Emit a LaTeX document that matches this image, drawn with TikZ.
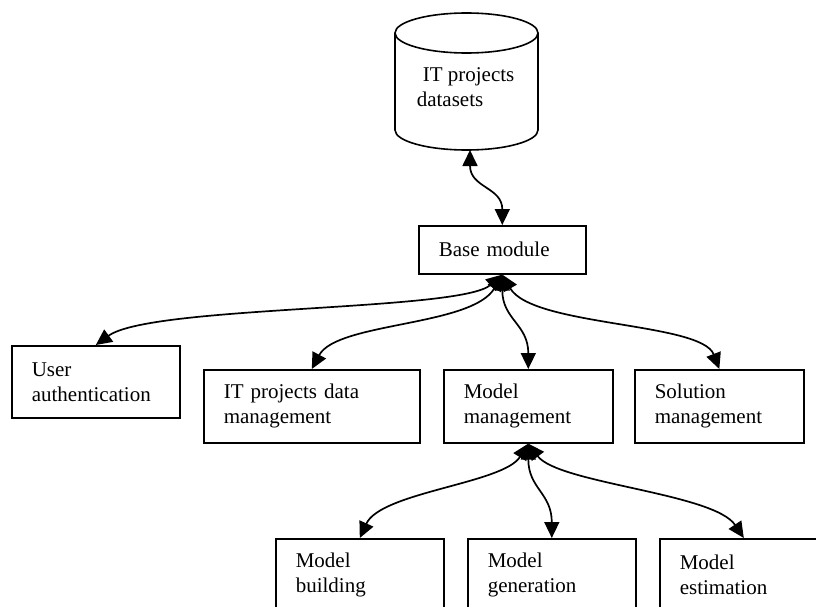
\documentclass[tikz,border=0pt]{standalone}
\usepackage{fontspec}
\setmainfont{Liberation Serif}
\usetikzlibrary{arrows.meta}

\begin{document}
\begin{tikzpicture}[
    x=1pt, y=-1pt,
    % GLOBAL CFG
    font=\fontsize{21}{25}\selectfont,
    line width=1.6pt,
    % Styles
    module/.style={% For the module boxes
        rectangle,
        draw=black,
        anchor=north west,
        align=left,
        inner xsep=20pt,
        inner ysep=0pt,
        minimum height=73pt,
    },
    store/.style={% For the datasets cylinder
        line width=1.6pt,
    },
    link/.style={% Double headed curved connectors
        {Triangle[length=16pt,width=15pt]}-{Triangle[length=16pt,width=15pt]},
        line width=1.7pt,
    },
    ]
    \clip (0,0) rectangle (816,607);

    % Draw datasets cylinder
    \draw[store] (395,33) -- (395,130) arc[start angle=180, end angle=0, x radius=71.5, y radius=20] -- (538,33);
    \draw[store] (466.5,33) ellipse [x radius=71.5, y radius=20];
    \coordinate (dbbot) at (470,150);
    \node[anchor=north west, align=left, inner sep=0pt] (dblabel) at (416,67) {\hspace{6pt}IT projects\\datasets};

    % Draw modules
    \node[module, text width=127pt, minimum height=48pt] (base) at (418,225) {Base module};
    \node[module, text width=128pt, minimum height=72pt] (ua) at (11,345) {User\\authentication};
    \node[module, text width=176pt] (itdm) at (203,369) {IT projects data\\management};
    \node[module, text width=129pt] (mm) at (443,369) {Model\\management};
    \node[module, text width=129pt] (sm) at (634,369) {Solution\\management};

    % Draw sub modules of model management
    \node[module, text width=128pt] (mb) at (275,538) {Model\\building};
    \node[module, text width=128pt] (mg) at (467,538) {Model\\generation};
    \node[module, text width=128pt] (me) at (659,538) {Model\\estimation};

    % Links
    \draw[link] (dbbot) .. controls +(0,38) and +(0,-38) .. (base.north);
    \draw[link] (base.south) .. controls +(-42,37) and +(55,-40) .. (ua.north);
    \draw[link] (base.south) .. controls +(-30,52) and +(25,-47) .. (itdm.north);
    \draw[link] (base.south) .. controls +(0,45) and +(0,-45) .. (mm.north);
    \draw[link] (base.south) .. controls +(30,52) and +(-18,-47) .. (sm.north);

    \draw[link] (mm.south) .. controls +(-25,40) and +(21,-46) .. (mb.north);
    \draw[link] (mm.south) .. controls +(0,45) and +(0,-45) .. (mg.north);
    \draw[link] (mm.south) .. controls +(30,40) and +(-30,-45) .. (me.north);

\end{tikzpicture}
\end{document}
